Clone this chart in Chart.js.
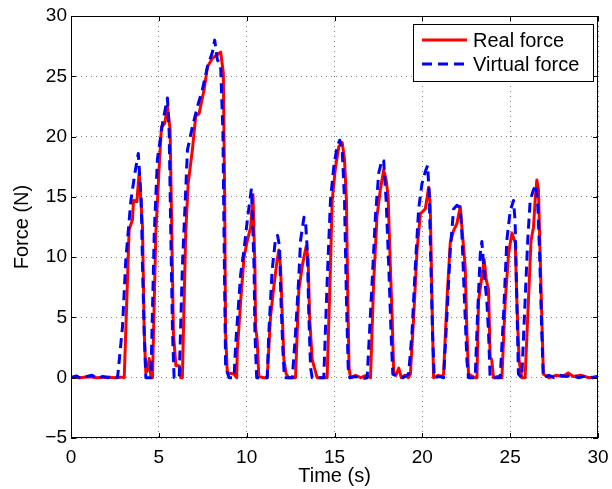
<!DOCTYPE html>
<html>
<head>
<meta charset="utf-8">
<script src="https://cdn.jsdelivr.net/npm/chart.js@4"></script>
<style>
  html, body { margin: 0; padding: 0; background: #fff; }
  #wrap { width: 612px; height: 489px; }
</style>
</head>
<body>
<div id="wrap"><canvas id="forceChart" width="612" height="489"></canvas></div>
<script>
var timeReal = [0, 0.5, 1, 1.5, 2, 2.5, 3.0,
  3.03, 3.31, 3.5, 3.56, 3.75, 3.88, 4.07, 4.17, 4.26, 4.35, 4.45, 4.55,
  4.64, 4.83, 5.02, 5.15, 5.34, 5.49, 5.64, 5.74, 5.83, 5.97, 6.16, 6.25,
  6.34, 6.53, 6.67, 6.91, 7.1, 7.29, 7.58, 7.77, 8.05, 8.33, 8.52, 8.67, 8.75, 8.8, 8.9, 9.28, 9.43,
  9.47, 9.66, 9.85, 10.04, 10.23, 10.36, 10.47, 10.51, 10.6, 10.69, 10.98,
  11.17, 11.36, 11.55, 11.74, 11.83, 11.93, 12.03, 12.12, 12.25, 12.4,
  12.78, 12.97, 13.16, 13.26, 13.39, 13.5, 13.58, 13.73, 13.92, 14.01,
  14.58, 14.77, 14.87, 15.06, 15.25, 15.44, 15.57, 15.68, 15.76, 15.83, 15.91, 16.2, 16.5, 16.8, 17.05,
  17.23, 17.42, 17.61, 17.8, 17.94, 18.05, 18.18, 18.28, 18.37, 18.5, 18.66, 18.8, 19.0, 19.2,
  19.32, 19.51, 19.7, 19.89, 20.17, 20.36, 20.45, 20.55, 20.64, 20.9, 21.1,
  21.21, 21.4, 21.59, 21.78, 21.97, 22.16, 22.25, 22.44, 22.54, 22.63, 23.01,
  23.11, 23.2, 23.39, 23.52, 23.64, 23.77, 23.86, 23.95, 24.05, 24.3, 24.53,
  24.72, 24.91, 25.1, 25.29, 25.38, 25.51, 25.66, 25.85,
  26.04, 26.19, 26.33, 26.42, 26.52, 26.61, 26.7, 26.8, 26.89, 27.2, 27.6, 28, 28.3, 28.6, 29, 29.5, 30];
var forceReal = [0.05, 0, 0.08, 0, 0.05, 0, 0.05,
  0, 12.3, 13.1, 14.7, 14.6, 17.0, 12.5, 3.7, 0.4, 0.6, 1.6, 0,
  0, 12.0, 17.5, 20.8, 21.1, 22.5, 20.6, 12.0, 3.7, 1.0, 1.0, 0,
  0, 12.0, 16.1, 18.9, 21.7, 21.9, 23.9, 25.8, 26.5, 26.8, 27.0, 25.3, 14.7, 3.7, 0.4, 0.3, 0,
  2.3, 6.4, 10.0, 11.4, 12.5, 15.2, 9.2, 4.2, 3.1, 0.1, 0,
  0, 5.1, 7.6, 9.8, 10.6, 9.2, 5.1, 1.5, 0.3, 0,
  0, 7.3, 9.2, 10.0, 10.9, 9.8, 5.1, 1.5, 0.5, 0,
  0, 9.2, 14.7, 17.5, 19.2, 19.5, 18.1, 14.7, 6.4, 0.8, 0, 0.2, 0, 0.2, 0,
  7.9, 13.4, 15.6, 17.2, 16.4, 15.1, 9.2, 5.1, 0.5, 0.2, 0.8, 0, 0.2, 0,
  0.3, 5.1, 10.6, 13.6, 14.0, 15.8, 14.3, 6.4, 0, 0.2, 0.1,
  0.3, 6.4, 11.2, 12.2, 12.8, 14.2, 12.5, 9.2, 3.7, 0.3, 0,
  0, 6.4, 8.4, 9.8, 8.1, 7.3, 1.7, 1.5, 0, 0.1, 0,
  6.4, 10.3, 12.0, 11.2, 6.4, 1.4, 0, 0,
  6.4, 11.4, 12.5, 14.7, 16.4, 15.6, 10.6, 5.1, 0.3, 0, 0.2, 0.1, 0.4, 0.1, 0.2, 0, 0.1];

var timeVirtual = [0, 0.3, 0.6, 0.9, 1.2, 1.5, 1.8, 2.1, 2.4, 2.65,
  2.93, 3.12, 3.41, 3.64, 3.83, 4.0, 4.07, 4.17, 4.26, 4.5,
  4.55, 4.74, 4.92, 5.21, 5.49, 5.59, 5.68, 5.78, 5.87, 6.16,
  6.34, 6.63, 6.91, 7.2, 7.48, 7.77, 8.05, 8.18, 8.33, 8.52, 8.65, 8.71, 8.8, 8.99, 9.28,
  9.38, 9.66, 9.85, 10.04, 10.27, 10.42, 10.47, 10.57, 10.9,
  11.17, 11.26, 11.45, 11.64, 11.76, 11.87, 11.95, 12.06, 12.15, 12.6,
  12.78, 12.97, 13.07, 13.26, 13.35, 13.45, 13.54, 13.64, 13.73, 14.39,
  14.58, 14.77, 14.96, 15.15, 15.3, 15.44, 15.57, 15.68, 15.78, 15.87, 16.2, 16.5, 16.86,
  17.14, 17.33, 17.52, 17.71, 17.8, 17.94, 18.09, 18.22, 18.32, 18.6, 18.9, 19.22,
  19.41, 19.6, 19.79, 19.98, 20.17, 20.3, 20.39, 20.49, 20.58, 20.68, 21.0, 21.21,
  21.4, 21.59, 21.78, 21.97, 22.16, 22.25, 22.4, 22.54, 22.63, 23.01,
  23.14, 23.3, 23.39, 23.52, 23.67, 23.77, 23.86, 24.43,
  24.62, 24.81, 25.0, 25.19, 25.28, 25.38, 25.47, 25.66,
  25.85, 26.0, 26.14, 26.33, 26.48, 26.57, 26.67, 26.8, 26.89, 27.2, 27.5, 27.8, 28.2, 28.5, 28.9, 29.3, 29.7, 30];
var forceVirtual = [0, 0.15, -0.1, 0.1, 0.2, -0.05, 0.1, 0, 0.15, 0,
  4.2, 9.8, 14.7, 17.0, 18.6, 14.7, 9.2, 3.7, 0, 0,
  0, 12.0, 18.1, 21.1, 23.2, 20.3, 12.0, 3.7, 0, 0,
  9.2, 18.9, 20.8, 22.5, 23.9, 25.8, 27.0, 28.0, 26.4, 25.8, 20.3, 12.0, 1.0, 0, 0,
  2.9, 8.6, 10.6, 13.1, 15.7, 9.2, 3.7, 0, 0,
  0, 3.7, 8.9, 11.5, 11.8, 10.9, 6.5, 2.3, 0, 0,
  3.7, 8.4, 11.4, 13.3, 13.0, 10.6, 5.1, 0.8, 0, 0,
  7.9, 14.7, 17.5, 19.2, 19.7, 18.9, 14.7, 6.4, 0.8, 0, 0.1, -0.1, 0,
  7.9, 13.4, 17.0, 18.1, 18.0, 14.7, 9.2, 3.7, 0.3, 0.1, 0, 0.3,
  3.7, 9.2, 14.0, 16.1, 17.1, 17.6, 15.3, 9.2, 3.7, 0, 0.1, 0,
  5.1, 10.6, 14.0, 14.3, 14.1, 12.0, 6.4, 1.4, 0, 0,
  5.1, 10.3, 11.3, 8.7, 6.4, 3.7, 0, 0,
  5.1, 11.4, 13.8, 14.7, 13.0, 6.4, 0.3, 0,
  6.4, 11.4, 14.7, 15.6, 16.0, 14.3, 10.6, 3.7, 0, 0.2, 0, 0.2, 0.1, 0.2, 0, 0.15, 0, 0.1];

var xTicks = [0, 5, 10, 15, 20, 25, 30];
var yTicks = [-5, 0, 5, 10, 15, 20, 25, 30];
var seriesLabels = ['Real force', 'Virtual force'];

var FONT = 'Liberation Sans, Arial, Helvetica, sans-serif';

function toPoints(xs, ys) {
  return xs.map(function (x, i) { return { x: x, y: ys[i] }; });
}

// Frame box with inward MATLAB-style ticks, plus the boxed legend
var frameAndLegend = {
  id: 'frameAndLegend',
  afterDraw: function (chart) {
    var ctx = chart.ctx;
    var a = chart.chartArea;
    var xs = chart.scales.x, ys = chart.scales.y;
    ctx.save();
    ctx.strokeStyle = '#000';
    ctx.lineWidth = 1;
    ctx.setLineDash([]);
    ctx.strokeRect(a.left + 0.5, a.top + 0.5, a.right - a.left - 1, a.bottom - a.top - 1);
    ctx.beginPath();
    xTicks.forEach(function (t) {
      var px = Math.round(xs.getPixelForValue(t)) + 0.5;
      ctx.moveTo(px, a.bottom); ctx.lineTo(px, a.bottom - 5);
      ctx.moveTo(px, a.top); ctx.lineTo(px, a.top + 5);
    });
    yTicks.forEach(function (t) {
      var py = Math.round(ys.getPixelForValue(t)) + 0.5;
      ctx.moveTo(a.left, py); ctx.lineTo(a.left + 5, py);
      ctx.moveTo(a.right, py); ctx.lineTo(a.right - 5, py);
    });
    ctx.stroke();

    // legend box
    var bx = 413, by = 24, bw = 180, bh = 57;
    ctx.fillStyle = '#fff';
    ctx.fillRect(bx, by, bw, bh);
    ctx.strokeRect(bx + 0.5, by + 0.5, bw, bh);
    ctx.font = '20px ' + FONT;
    ctx.textBaseline = 'middle';
    chart.data.datasets.forEach(function (ds, i) {
      var ly = by + 16 + i * 24;
      ctx.beginPath();
      ctx.strokeStyle = ds.borderColor;
      ctx.lineWidth = ds.borderWidth;
      ctx.setLineDash(ds.borderDash || []);
      ctx.moveTo(bx + 9, ly);
      ctx.lineTo(bx + 54, ly);
      ctx.stroke();
      ctx.setLineDash([]);
      ctx.fillStyle = '#000';
      ctx.fillText(ds.label, bx + 60, ly + 1);
    });
    ctx.restore();
  }
};

var chart = new Chart(document.getElementById('forceChart').getContext('2d'), {
  type: 'line',
  data: {
    datasets: [{
      label: seriesLabels[0],
      data: toPoints(timeReal, forceReal),
      borderColor: '#ff0000',
      borderWidth: 3,
      borderJoinStyle: 'round',
      borderCapStyle: 'round',
      pointRadius: 0,
      tension: 0,
      order: 1
    }, {
      label: seriesLabels[1],
      data: toPoints(timeVirtual, forceVirtual),
      borderColor: '#0000ff',
      borderWidth: 3,
      borderDash: [10, 6],
      borderJoinStyle: 'round',
      pointRadius: 0,
      tension: 0,
      order: 0
    }]
  },
  plugins: [frameAndLegend],
  options: {
    responsive: false,
    animation: false,
    layout: { padding: { top: 16, right: 14, left: 0, bottom: 0 } },
    plugins: {
      legend: { display: false },
      tooltip: { enabled: false }
    },
    scales: {
      x: {
        type: 'linear',
        min: 0, max: 30,
        afterBuildTicks: function (s) { s.ticks = xTicks.map(function (v) { return { value: v }; }); },
        afterFit: function (s) { s.height = 51; s.paddingLeft = 0; s.paddingRight = 0; },
        grid: { color: 'rgba(0,0,0,0.5)', lineWidth: 1, drawTicks: false },
        border: { display: false, dash: [1, 4] },
        ticks: { color: '#000', padding: 8, maxRotation: 0, font: { family: FONT, size: 19 } },
        title: { display: true, text: 'Time (s)', color: '#000', padding: { top: 0, bottom: 1 }, font: { family: FONT, size: 20 } }
      },
      y: {
        min: -5, max: 30,
        afterBuildTicks: function (s) { s.ticks = yTicks.map(function (v) { return { value: v }; }); },
        afterFit: function (s) { s.width = 71; s.paddingTop = 0; s.paddingBottom = 0; },
        grid: { color: 'rgba(0,0,0,0.5)', lineWidth: 1, drawTicks: false },
        border: { display: false, dash: [1, 4] },
        ticks: {
          color: '#000', padding: 4, font: { family: FONT, size: 19 },
          callback: function (v) { return String(v).replace('-', '\u2212'); }
        },
        title: { display: true, text: 'Force (N)', color: '#000', padding: { top: 10, bottom: 0 }, font: { family: FONT, size: 20 } }
      }
    }
  }
});
</script>
</body>
</html>
